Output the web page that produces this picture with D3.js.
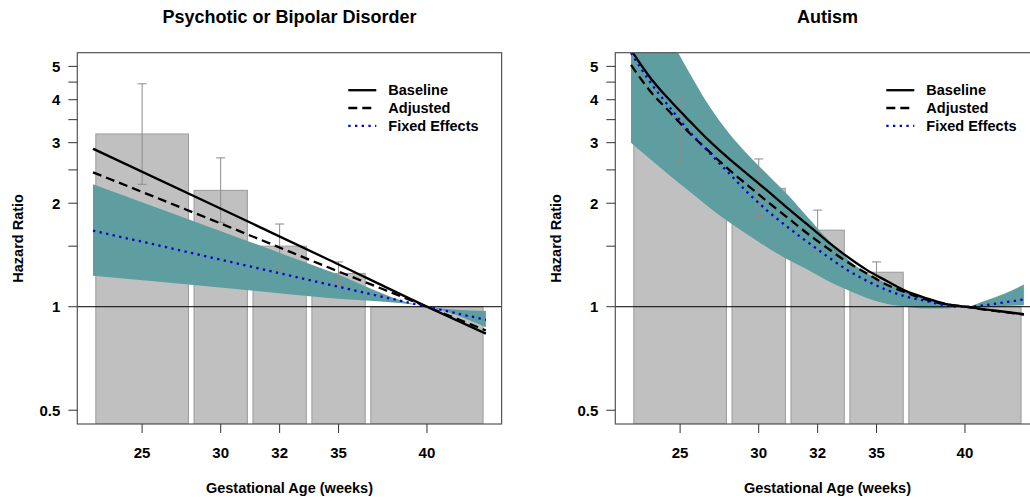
<!DOCTYPE html>
<html>
<head>
<meta charset="utf-8">
<script src="https://cdn.jsdelivr.net/npm/d3@7"></script>
<style>
  body { margin: 0; background: #fff; }
  text { font-family: "Liberation Sans", Arial, sans-serif; font-weight: bold; fill: #000; }
</style>
</head>
<body>
<div id="chart"></div>
<script>
// Gestational age bins (weeks) and their tick labels
const binStart = [23, 28, 31, 34, 37];
const binEnd = [28, 31, 34, 37, 43];
const tickLabels = ["25", "30", "32", "35", "40"];
const legendNames = ["Baseline", "Adjusted", "Fixed Effects"];

// Psychotic or Bipolar Disorder: observed hazard ratios per bin
const psyBars = [3.18, 2.18, 1.50, 1.25, 1.00];
const psyErrLo = [2.27, 1.76, 1.29, 1.16, null];
const psyErrHi = [4.45, 2.71, 1.74, 1.35, null];
// fitted curves (log-linear)
const psyWeeks = [23, 30, 35, 40, 43];
const psyBaseline = [2.88, 1.87, 1.37, 1.00, 0.835];
const psyAdjusted = [2.46, 1.70, 1.30, 1.00, 0.853];
const psyFixed = [1.665, 1.35, 1.16, 1.00, 0.916];
const psyBandLo = [1.23, 1.13, 1.06, 1.00, 0.872];
const psyBandHi = [2.27, 1.62, 1.27, 1.00, 0.972];

// Autism
const autBars = [3.24, 2.21, 1.67, 1.26, 1.00];
const autErrLo = [2.62, 1.83, 1.46, 1.17, null];
const autErrHi = [4.02, 2.69, 1.91, 1.35, null];
const autWeeks = [23, 24, 25, 26, 27, 28, 29, 30, 31, 32, 33, 34, 35, 36, 37, 38, 39, 40, 41, 42, 43];
const autBaseline = [5.58, 4.62, 3.97, 3.46, 3.03, 2.69, 2.41, 2.16, 1.93, 1.73, 1.55, 1.40, 1.28, 1.19, 1.11, 1.06, 1.02, 1.00, 0.982, 0.967, 0.951];
const autAdjusted = [5.05, 4.22, 3.67, 3.19, 2.82, 2.50, 2.24, 2.01, 1.81, 1.63, 1.48, 1.35, 1.25, 1.16, 1.10, 1.05, 1.017, 1.00, 0.981, 0.965, 0.949];
const autFixed = [5.47, 4.48, 3.78, 3.22, 2.80, 2.44, 2.13, 1.89, 1.70, 1.54, 1.40, 1.28, 1.19, 1.12, 1.07, 1.04, 1.01, 1.00, 1.01, 1.03, 1.05];
const autBandLo = [3.00, 2.68, 2.40, 2.16, 1.94, 1.76, 1.61, 1.48, 1.37, 1.28, 1.19, 1.12, 1.06, 1.02, 1.00, 0.988, 0.988, 1.00, 1.00, 1.005, 1.01];
const autBandHi = [10.5, 7.92, 6.05, 4.76, 3.82, 3.19, 2.75, 2.41, 2.11, 1.82, 1.57, 1.38, 1.25, 1.17, 1.105, 1.06, 1.025, 1.00, 1.04, 1.09, 1.16];

// y ticks
const yTicksMajor = [0.5, 1, 2, 3, 4, 5];
const yTicksMinor = [1.5, 2.5, 3.5, 4.5];

const svg = d3.select("#chart").append("svg")
    .attr("width", 1030)
    .attr("height", 502);

const W = 424.3, H = 371.3;
const barFill = "#c0c0c0", barStroke = "#9a9a9a", errColor = "#8c8c8c";
const bandColor = "#5f9ea0", fixedColor = "#0000cd";

function drawPanel(left, top, title, bars, errLo, errHi, weeks, base, adj, fixed, bandLo, bandHi, clipId) {
    const g = svg.append("g").attr("transform", `translate(${left},${top})`);

    const x = d3.scaleLinear().domain([22.2, 43.8]).range([0, W]);
    const y = d3.scaleLog().domain([0.456, 5.48]).range([H, 0]);

    g.append("clipPath").attr("id", clipId)
        .append("rect").attr("width", W).attr("height", H);
    const plot = g.append("g").attr("clip-path", `url(#${clipId})`);

    // bars
    const inset = 2.8;
    plot.selectAll(".bar")
        .data(bars)
        .enter().append("rect")
        .attr("class", "bar")
        .attr("x", (d, i) => x(binStart[i]) + inset)
        .attr("width", (d, i) => x(binEnd[i]) - x(binStart[i]) - 2 * inset)
        .attr("y", d => y(d))
        .attr("height", d => H - y(d))
        .style("fill", barFill)
        .style("stroke", barStroke)
        .style("stroke-width", 1);

    // confidence band of fixed effects curve
    const pts = weeks.map((w, i) => ({ w: w, lo: bandLo[i], hi: bandHi[i], b: base[i], a: adj[i], f: fixed[i] }));
    plot.append("path")
        .datum(pts)
        .attr("d", d3.area().x(d => x(d.w)).y0(d => y(d.lo)).y1(d => y(d.hi)).curve(d3.curveMonotoneX))
        .style("fill", bandColor);

    // error bars
    const centers = binStart.map((s, i) => (s + binEnd[i]) / 2);
    bars.forEach((d, i) => {
        if (errLo[i] == null) return;
        const cx = x(centers[i]);
        const eg = plot.append("g").style("stroke", errColor).style("stroke-width", 1);
        eg.append("line").attr("x1", cx).attr("x2", cx).attr("y1", y(errLo[i])).attr("y2", y(errHi[i]));
        eg.append("line").attr("x1", cx - 4.5).attr("x2", cx + 4.5).attr("y1", y(errLo[i])).attr("y2", y(errLo[i]));
        eg.append("line").attr("x1", cx - 4.5).attr("x2", cx + 4.5).attr("y1", y(errHi[i])).attr("y2", y(errHi[i]));
    });

    // reference line at HR = 1
    g.append("line")
        .attr("x1", 0).attr("x2", W)
        .attr("y1", y(1)).attr("y2", y(1))
        .style("stroke", "#000").style("stroke-width", 1);

    // curves
    const lineOf = key => d3.line().x(d => x(d.w)).y(d => y(d[key])).curve(d3.curveMonotoneX);
    plot.append("path").datum(pts).attr("d", lineOf("b"))
        .style("fill", "none").style("stroke", "#000").style("stroke-width", 2.3);
    plot.append("path").datum(pts).attr("d", lineOf("a"))
        .style("fill", "none").style("stroke", "#000").style("stroke-width", 2.3)
        .style("stroke-dasharray", "9,5");
    plot.append("path").datum(pts).attr("d", lineOf("f"))
        .style("fill", "none").style("stroke", fixedColor).style("stroke-width", 2.3)
        .style("stroke-dasharray", "2.3,4.4");

    // box
    g.append("rect").attr("width", W).attr("height", H)
        .style("fill", "none").style("stroke", "#555").style("stroke-width", 1.2);

    // y axis
    const tickLen = 9;
    g.selectAll(".ytick")
        .data(yTicksMajor.concat(yTicksMinor))
        .enter().append("line")
        .attr("x1", -tickLen).attr("x2", 0)
        .attr("y1", d => y(d)).attr("y2", d => y(d))
        .style("stroke", "#333").style("stroke-width", 1);
    g.selectAll(".ylab")
        .data(yTicksMajor)
        .enter().append("text")
        .attr("x", -17).attr("y", d => y(d) + 5.3)
        .attr("text-anchor", "end")
        .style("font-size", "15px")
        .text(d => d);

    // x axis
    g.selectAll(".xtick")
        .data(centers)
        .enter().append("line")
        .attr("x1", d => x(d)).attr("x2", d => x(d))
        .attr("y1", H).attr("y2", H + tickLen)
        .style("stroke", "#333").style("stroke-width", 1);
    g.selectAll(".xlab")
        .data(centers)
        .enter().append("text")
        .attr("x", d => x(d)).attr("y", H + 34.5)
        .attr("text-anchor", "middle")
        .style("font-size", "15px")
        .text((d, i) => tickLabels[i]);

    // titles
    g.append("text")
        .attr("x", W / 2).attr("y", -30)
        .attr("text-anchor", "middle")
        .style("font-size", "18px")
        .text(title);
    g.append("text")
        .attr("x", W / 2).attr("y", H + 69)
        .attr("text-anchor", "middle")
        .style("font-size", "14.5px")
        .text("Gestational Age (weeks)");
    g.append("text")
        .attr("transform", `translate(-54,${H / 2}) rotate(-90)`)
        .attr("text-anchor", "middle")
        .style("font-size", "14.5px")
        .text("Hazard Ratio");

    // legend
    const styles = [
        { c: "#000", dash: null },
        { c: "#000", dash: "9,5" },
        { c: fixedColor, dash: "2.3,4.4" }
    ];
    const lg = g.append("g").attr("transform", "translate(271,37.5)");
    legendNames.forEach((name, i) => {
        const row = lg.append("g").attr("transform", `translate(0,${i * 17.8})`);
        row.append("line")
            .attr("x1", 0).attr("x2", 28).attr("y1", 0).attr("y2", 0)
            .style("stroke", styles[i].c).style("stroke-width", 2.3)
            .style("stroke-dasharray", styles[i].dash);
        row.append("text")
            .attr("x", 40).attr("y", 5)
            .style("font-size", "14.5px")
            .text(name);
    });
}

drawPanel(77.3, 52.7, "Psychotic or Bipolar Disorder", psyBars, psyErrLo, psyErrHi,
    psyWeeks, psyBaseline, psyAdjusted, psyFixed, psyBandLo, psyBandHi, "clipPsy");
drawPanel(615.3, 52.7, "Autism", autBars, autErrLo, autErrHi,
    autWeeks, autBaseline, autAdjusted, autFixed, autBandLo, autBandHi, "clipAut");
</script>
</body>
</html>
